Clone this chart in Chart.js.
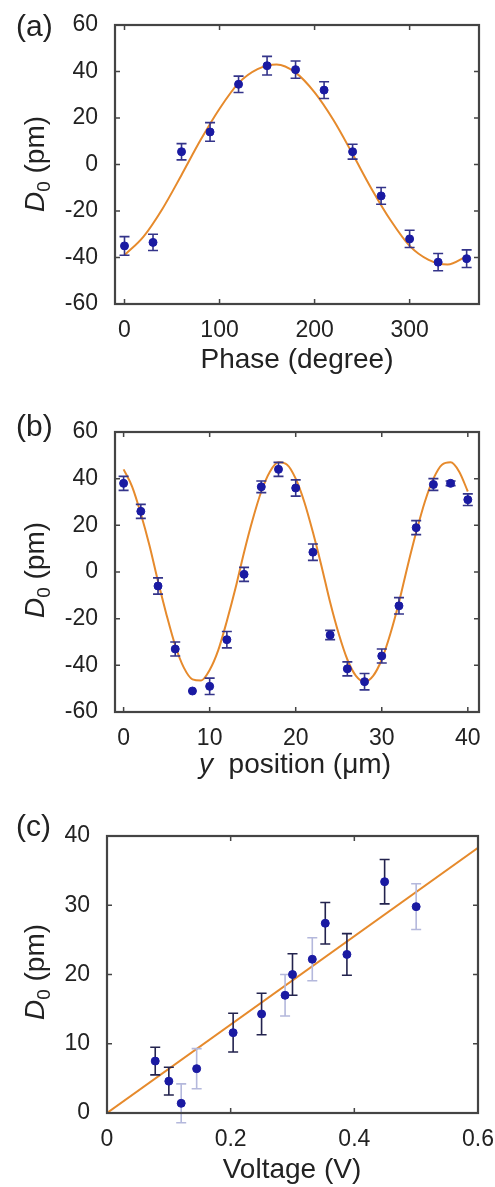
<!DOCTYPE html>
<html>
<head>
<meta charset="utf-8">
<script src="https://cdn.jsdelivr.net/npm/chart.js@4.4.1/dist/chart.umd.min.js"></script>
<style>
  html, body { margin: 0; padding: 0; background: #fff; }
  #page { position: relative; width: 495px; height: 1187px; overflow: hidden; font-family: 'Liberation Sans', Arial, sans-serif; color: #222; }
  canvas { position: absolute; left: 0; }
  .panel-tag { position: absolute; left: 16px; font-size: 30px; line-height: 30px; }
  .x-title { position: absolute; font-size: 28px; line-height: 28px; transform: translateX(-50%); white-space: nowrap; }
  .y-title { position: absolute; left: 35px; font-size: 28px; line-height: 28px; white-space: nowrap; transform: translate(-50%, -50%) rotate(-90deg); }
  .y-title sub { font-size: 19px; vertical-align: -6px; line-height: 0; }
</style>
</head>
<body>
<div id="page">
  <canvas id="chartA" width="495" height="395" style="top:0"></canvas>
  <canvas id="chartB" width="495" height="395" style="top:395px"></canvas>
  <canvas id="chartC" width="495" height="397" style="top:790px"></canvas>

  <div class="panel-tag" style="top:11px">(a)</div>
  <div class="y-title" style="top:164px"><i>D</i><sub>0</sub> (pm)</div>
  <div class="x-title" style="left:297px; top:345px">Phase (degree)</div>

  <div class="panel-tag" style="top:411px">(b)</div>
  <div class="y-title" style="top:570px"><i>D</i><sub>0</sub> (pm)</div>
  <div class="x-title" style="left:295px; top:750px"><i>y</i>&nbsp; position (μm)</div>

  <div class="panel-tag" style="top:811px">(c)</div>
  <div class="y-title" style="top:972px"><i>D</i><sub>0</sub> (pm)</div>
  <div class="x-title" style="left:292px; top:1155px">Voltage (V)</div>
</div>
<script>
// (a) D0 vs phase
const phaseDeg = [0, 30, 60, 90, 120, 150, 180, 210, 240, 270, 300, 330, 360];
const phaseD0 = [-35, -33.5, 5.5, 14, 34.5, 42.5, 40.8, 32, 5.5, -13.5, -32, -42, -40.5];
const phaseErr = [4, 3.5, 3.5, 4, 3.5, 4, 3.7, 3.6, 3.2, 3.6, 3.7, 3.7, 3.8];
const phaseFitX = [0, 20, 40, 60, 80, 100, 120, 140, 160, 180, 200, 220, 240, 260, 280, 300, 320, 340, 360];
const phaseFitY = [-39, -31, -19, -4.5, 10.5, 24, 35, 41, 43, 39.5, 31, 19, 4.5, -10.5, -24, -35, -41, -43, -39.5];
const phaseTicks = [0, 100, 200, 300];

// (b) D0 vs y position
const posUm = [0, 2, 4, 6, 8, 10, 12, 14, 16, 18, 20, 22, 24, 26, 28, 30, 32, 34, 36, 38, 40];
const posD0 = [38, 26, -6, -33, -51, -49, -29, -1, 36.5, 44, 36, 8.5, -27, -41.5, -47, -36, -14.5, 19, 37.5, 38, 31];
const posErr = [3, 3, 3.5, 3, 0, 3.5, 3.5, 3, 2.5, 3, 3.5, 3.5, 2, 3, 3.5, 3, 3.5, 3, 2.5, 1, 2.5];
const posFitX = [0, 1, 2, 3, 4, 5, 6, 7, 8, 9, 10, 11, 12, 13, 14, 15, 16, 17, 18, 19, 20,
  21, 22, 23, 24, 25, 26, 27, 28, 29, 30, 31, 32, 33, 34, 35, 36, 37, 38, 39, 40];
const posFitY = [44, 36.5, 25, 11.5, -4, -18.5, -31.5, -41, -46, -46.5, -42, -33.5, -21, -7, 8.5, 22.5, 34.5, 43, 47, 46, 40,
  30, 17, 2.5, -13, -26.5, -37.5, -44.5, -47, -44.5, -37.5, -26.5, -13, 2.5, 17, 30, 40, 46, 47, 43, 34.5];
const posTicks = [0, 10, 20, 30, 40];

// (c) D0 vs voltage
const voltV = [0.078, 0.1, 0.12, 0.145, 0.204, 0.25, 0.288, 0.3, 0.332, 0.353, 0.388, 0.449, 0.5];
const voltD0 = [7.5, 4.6, 1.4, 6.4, 11.6, 14.3, 17, 20, 22.2, 27.4, 22.9, 33.4, 29.8];
const voltErr = [2, 2, 2.8, 2.9, 2.8, 3, 3, 3, 3.1, 3, 3, 3.2, 3.3];
const voltDark = [true, true, false, false, true, true, false, true, false, true, true, true, false];
const voltFitX = [0, 0.6];
const voltFitY = [0, 38.3];

const DOT = '#1a1aa2';
const FIT = '#e68a2c';
const ERR = '#34348a';
const ERR_DARK = '#23234e';
const ERR_LIGHT = '#b4b8dc';
const FRAME = '#444';
const TICK_FONT = { family: "'Liberation Sans', Arial, sans-serif", size: 23 };

const toXY = (xs, ys) => xs.map((x, i) => ({ x, y: ys[i] }));

const errorBars = {
  id: 'errorBars',
  beforeDatasetDraw(chart, args) {
    const ds = chart.data.datasets[args.index];
    if (!ds.errors) return;
    const { ctx, scales: { x, y } } = chart;
    ctx.save();
    ctx.lineWidth = 1.6;
    ds.data.forEach((p, i) => {
      const e = ds.errors[i];
      if (!e) return;
      const px = x.getPixelForValue(p.x);
      const top = y.getPixelForValue(p.y + e);
      const bot = y.getPixelForValue(p.y - e);
      ctx.strokeStyle = Array.isArray(ds.errColors) ? ds.errColors[i] : ds.errColors;
      ctx.beginPath();
      ctx.moveTo(px, top); ctx.lineTo(px, bot);
      ctx.moveTo(px - 5, top); ctx.lineTo(px + 5, top);
      ctx.moveTo(px - 5, bot); ctx.lineTo(px + 5, bot);
      ctx.stroke();
    });
    ctx.restore();
  }
};

// MATLAB style box with inward ticks on all four sides
const frame = {
  id: 'frame',
  afterDraw(chart) {
    const { ctx, chartArea: a, scales: { x, y } } = chart;
    const len = 5;
    ctx.save();
    ctx.strokeStyle = FRAME;
    ctx.lineWidth = 1.5;
    ctx.beginPath();
    x.ticks.forEach(t => {
      const px = x.getPixelForValue(t.value);
      ctx.moveTo(px, a.bottom); ctx.lineTo(px, a.bottom - len);
      ctx.moveTo(px, a.top); ctx.lineTo(px, a.top + len);
    });
    y.ticks.forEach(t => {
      const py = y.getPixelForValue(t.value);
      ctx.moveTo(a.left, py); ctx.lineTo(a.left + len, py);
      ctx.moveTo(a.right, py); ctx.lineTo(a.right - len, py);
    });
    ctx.stroke();
    ctx.lineWidth = 2.2;
    ctx.strokeRect(a.left, a.top, a.right - a.left, a.bottom - a.top);
    ctx.restore();
  }
};

function makePanel(id, cfg) {
  const points = {
    data: toXY(cfg.xs, cfg.ys),
    errors: cfg.errs,
    errColors: cfg.errColors,
    backgroundColor: DOT,
    borderColor: DOT,
    pointRadius: 4,
    showLine: false,
  };
  const fit = {
    type: 'line',
    data: toXY(cfg.fitX, cfg.fitY),
    borderColor: FIT,
    borderWidth: 2,
    pointRadius: 0,
    cubicInterpolationMode: 'monotone',
    fill: false,
  };
  return new Chart(document.getElementById(id), {
    type: 'scatter',
    data: { datasets: [points, fit] },
    options: {
      responsive: false,
      animation: false,
      layout: { padding: { top: cfg.padTop, right: cfg.padRight, left: 0, bottom: 0 } },
      plugins: { legend: { display: false }, tooltip: { enabled: false } },
      scales: {
        x: {
          type: 'linear',
          min: cfg.xMin,
          max: cfg.xMax,
          grid: { display: false },
          border: { display: false },
          ticks: { font: TICK_FONT, color: '#222', padding: 5, maxRotation: 0, autoSkip: false, stepSize: cfg.xStep },
          afterBuildTicks: cfg.xTicks ? s => { s.ticks = cfg.xTicks.map(v => ({ value: v })); } : undefined,
          afterFit: s => { s.height = cfg.xAxisH; s.paddingLeft = 0; s.paddingRight = 0; },
        },
        y: {
          min: cfg.yMin,
          max: cfg.yMax,
          grid: { display: false },
          border: { display: false },
          ticks: { font: TICK_FONT, color: '#222', padding: 9, stepSize: cfg.yStep },
          afterFit: s => { s.width = cfg.yAxisW; s.paddingTop = 0; s.paddingBottom = 0; },
        }
      }
    },
    plugins: [errorBars, frame]
  });
}

makePanel('chartA', {
  xs: phaseDeg, ys: phaseD0, errs: phaseErr, errColors: ERR,
  fitX: phaseFitX, fitY: phaseFitY,
  xMin: -10, xMax: 373, xTicks: phaseTicks,
  yMin: -60, yMax: 60, yStep: 20,
  padTop: 25, padRight: 16, xAxisH: 91, yAxisW: 115,
});

makePanel('chartB', {
  xs: posUm, ys: posD0, errs: posErr, errColors: ERR,
  fitX: posFitX, fitY: posFitY,
  xMin: -1, xMax: 41.3, xTicks: posTicks,
  yMin: -60, yMax: 60, yStep: 20,
  padTop: 37, padRight: 16, xAxisH: 78, yAxisW: 115,
});

makePanel('chartC', {
  xs: voltV, ys: voltD0, errs: voltErr, errColors: voltDark.map(d => d ? ERR_DARK : ERR_LIGHT),
  fitX: voltFitX, fitY: voltFitY,
  xMin: 0, xMax: 0.6, xStep: 0.2,
  yMin: 0, yMax: 40, yStep: 10,
  padTop: 46, padRight: 17, xAxisH: 74, yAxisW: 107,
});
</script>
</body>
</html>
